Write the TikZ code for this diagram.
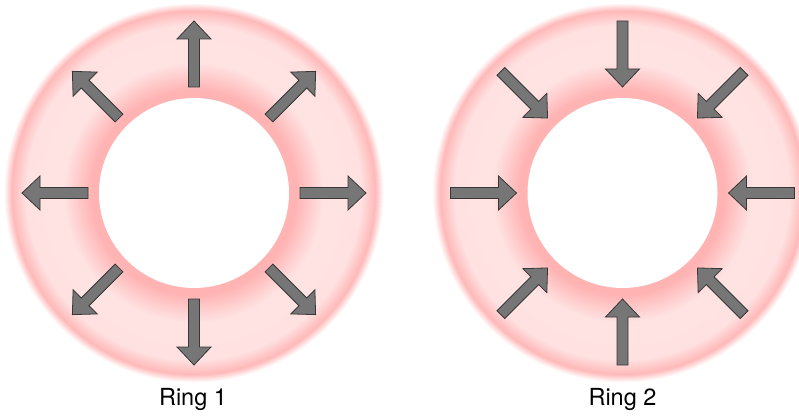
\documentclass[tikz,border=0pt]{standalone}
\usepackage{fontspec}
\setmainfont{TeX Gyre Heros}
\definecolor{ringc}{RGB}{255,168,168}
\definecolor{arrfill}{RGB}{118,118,118}
\definecolor{arrdraw}{RGB}{55,55,55}
\tikzset{
  blockarrow/.style={fill=arrfill,draw=arrdraw,line width=0.8pt,line join=miter},
  ringlabel/.style={anchor=base,font=\fontsize{23.5}{28}\selectfont,text=black,inner sep=0pt}
}
\newcommand{\ringbody}[1]{%
  \foreach \r in {190,189.5,...,182}{\pgfmathsetmacro\p{80*(190-\r)/8}\fill[ringc!\p!white] (#1) circle[radius=\r pt];}
  \foreach \r in {181.5,181,...,168}{\pgfmathsetmacro\p{80-45*(182-\r)/14}\fill[ringc!\p!white] (#1) circle[radius=\r pt];}
  \foreach \r in {167.5,167,...,130}{\pgfmathsetmacro\p{35-3*(168-\r)/38}\fill[ringc!\p!white] (#1) circle[radius=\r pt];}
  \foreach \r in {129.5,129,...,102}{\pgfmathsetmacro\p{32+55*(130-\r)/28}\fill[ringc!\p!white] (#1) circle[radius=\r pt];}
  \foreach \r in {101.5,101,...,95.5}{\fill[ringc!87!white] (#1) circle[radius=\r pt];}
  \fill[white] (#1) circle[radius=95pt];
}
\begin{document}
\begin{tikzpicture}[x=1pt,y=1pt]
\useasboundingbox (0,0) rectangle (799,415);
\clip (0,0) rectangle (799,415);
\coordinate (c1) at (194,222);
\coordinate (c2) at (622.5,222);
\ringbody{c1}
\ringbody{c2}
% Ring 1: outward arrows
\foreach \a in {0,45,...,315}{
  \begin{scope}[shift={(c1)},rotate=\a]
    \draw[blockarrow] (106,-5.5) -- (154,-5.5) -- (154,-17) -- (172,0) -- (154,17) -- (154,5.5) -- (106,5.5) -- cycle;
  \end{scope}
}
% Ring 2: inward arrows
\foreach \a in {0,45,...,315}{
  \begin{scope}[shift={(c2)},rotate=\a]
    \draw[blockarrow] (172,-5.5) -- (124,-5.5) -- (124,-17) -- (106,0) -- (124,17) -- (124,5.5) -- (172,5.5) -- cycle;
  \end{scope}
}
\node[ringlabel] (l1) at (193,9.5) {Ring 1};
\node[ringlabel] (l2) at (622.5,9.5) {Ring 2};
\end{tikzpicture}
\end{document}
